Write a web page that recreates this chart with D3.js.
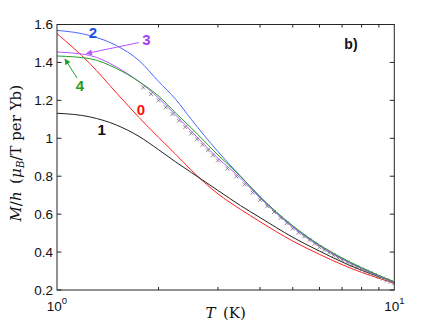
<!DOCTYPE html>
<html>
<head>
<meta charset="utf-8">
<script src="https://cdn.jsdelivr.net/npm/d3@7"></script>
<style>
  body { margin: 0; background: #fff; }
</style>
</head>
<body>
<div id="chart"></div>
<script>
(function(){

    // temperatures (K) of the model curves
    var temps  = [1, 1.25, 1.5, 1.75, 2, 2.25, 2.5, 3, 3.5, 4, 5, 6, 7, 8, 9, 10];

    // M/h values of each curve
    var curve0 = [1.552, 1.395, 1.24, 1.11, 1.005, 0.915, 0.832, 0.707, 0.625, 0.56, 0.458, 0.388, 0.334, 0.293, 0.262, 0.235];
    var curve1 = [1.132, 1.113, 1.07, 1.01, 0.94, 0.875, 0.82, 0.725, 0.645, 0.582, 0.478, 0.405, 0.348, 0.304, 0.271, 0.243];
    var curve2 = [1.569, 1.542, 1.489, 1.41, 1.30, 1.205, 1.10, 0.93, 0.80, 0.69, 0.535, 0.435, 0.366, 0.315, 0.274, 0.24];
    var curve3 = [1.455, 1.437, 1.376, 1.299, 1.212, 1.122, 1.038, 0.895, 0.79, 0.685, 0.532, 0.432, 0.363, 0.313, 0.273, 0.239];
    var curve4 = [1.434, 1.420, 1.368, 1.299, 1.223, 1.133, 1.055, 0.912, 0.80, 0.692, 0.539, 0.438, 0.369, 0.318, 0.277, 0.243];

    // measured points (grey crosses)
    var dataT = [1.8, 1.9, 2.0, 2.1, 2.2, 2.3, 2.4, 2.5, 2.6, 2.7, 2.8, 2.9, 3.0,
                 3.2, 3.4, 3.6, 3.8, 4.0, 4.2, 4.4, 4.6, 4.8, 5.0, 5.2, 5.4, 5.6, 5.8, 6.0,
                 6.2, 6.4, 6.6, 6.8, 7.0, 7.25, 7.5, 7.75, 8.0, 8.25, 8.5, 8.75, 9.0, 9.25, 9.5, 9.75, 10];
    var dataM = [1.268, 1.233, 1.200, 1.163, 1.128, 1.093, 1.059, 1.026, 0.995, 0.966, 0.937, 0.910, 0.883,
                 0.840, 0.799, 0.757, 0.714, 0.675, 0.642, 0.611, 0.580, 0.552, 0.524, 0.502, 0.482, 0.463, 0.444, 0.425,
                 0.411, 0.397, 0.383, 0.370, 0.357, 0.345, 0.332, 0.320, 0.308, 0.298, 0.288, 0.279, 0.269, 0.260, 0.252, 0.243, 0.236];

    var yTicks      = [0.2, 0.4, 0.6, 0.8, 1.0, 1.2, 1.4, 1.6];
    var yTickLabels = ["0.2", "0.4", "0.6", "0.8", "1", "1.2", "1.4", "1.6"];
    var xMinor      = [2, 3, 4, 5, 6, 7, 8, 9];
    var xMajor      = [1, 10];
    var xExponents  = ["0", "1"];

    // curve number labels and arrows (in data units)
    var labelNames = ["0", "1", "2", "3", "4"];
    var labelT     = [1.774, 1.357, 1.278, 1.842, 1.170];
    var labelM     = [1.152, 1.046, 1.560, 1.518, 1.278];
    var arrowFrom  = [{t: 1.75, m: 1.505}, {t: 1.146, m: 1.318}];
    var arrowTo    = [{t: 1.223, m: 1.447}, {t: 1.056, m: 1.418}];

    var lineColors  = ["#ff1f1f", "#222222", "#4a68ff", "#b455ff", "#23a123"];
    var labelColors = ["#ff1010", "#111111", "#1f4fe6", "#a640f0", "#2a9a1e"];

    var width = 436, height = 327;
    var margin = {top: 24.5, right: 41.7, bottom: 37, left: 57};
    var w = width - margin.left - margin.right;
    var h = height - margin.top - margin.bottom;

    var svg = d3.select("#chart")
                .append("svg")
                .attr("width", width)
                .attr("height", height);

    var x = d3.scaleLog().domain([1, 10]).range([0, w]);
    var y = d3.scaleLinear().domain([0.2, 1.6]).range([h, 0]);

    var defs = svg.append("defs");
    defs.append("clipPath").attr("id", "clip")
        .append("rect").attr("width", w).attr("height", h);

    [3, 4].forEach(function(i){
        defs.append("marker")
            .attr("id", "head" + i)
            .attr("viewBox", "0 0 10 10")
            .attr("refX", 9).attr("refY", 5)
            .attr("markerWidth", 7).attr("markerHeight", 6)
            .attr("markerUnits", "userSpaceOnUse")
            .attr("orient", "auto")
            .append("path")
            .attr("d", "M0,0 L10,5 L0,10 z")
            .attr("fill", lineColors[i]);
    });

    var g = svg.append("g")
               .attr("transform", "translate(" + margin.left + "," + margin.top + ")");

    var plot = g.append("g").attr("clip-path", "url(#clip)");

    var line = d3.line()
                 .x(function(d){ return x(d[0]); })
                 .y(function(d){ return y(d[1]); })
                 .curve(d3.curveMonotoneX);

    var curves = [curve0, curve1, curve2, curve3, curve4];
    for (var k = 0; k < curves.length; k++) {
        plot.append("path")
            .datum(d3.zip(temps, curves[k]))
            .attr("d", line)
            .attr("fill", "none")
            .attr("stroke", lineColors[k])
            .attr("stroke-width", 1);
    }

    // grey crosses
    var cs = 2;
    plot.selectAll(".cross")
        .data(d3.zip(dataT, dataM))
        .enter()
        .append("path")
        .attr("class", "cross")
        .attr("d", function(d){
            var cx = x(d[0]), cy = y(d[1]);
            return "M" + (cx - cs) + "," + (cy - cs) + "L" + (cx + cs) + "," + (cy + cs) +
                   "M" + (cx - cs) + "," + (cy + cs) + "L" + (cx + cs) + "," + (cy - cs);
        })
        .attr("stroke", "#707070")
        .attr("stroke-opacity", 0.8)
        .attr("stroke-width", 1)
        .attr("fill", "none");

    // frame
    g.append("rect")
     .attr("width", w).attr("height", h)
     .attr("fill", "none")
     .attr("stroke", "#262626")
     .attr("stroke-width", 1);

    // y ticks, inside, left and right
    var tk = 4.5;
    for (var v of yTicks) {
        g.append("line").attr("x1", 0).attr("x2", tk)
         .attr("y1", y(v)).attr("y2", y(v))
         .attr("stroke", "#262626");
        g.append("line").attr("x1", w - tk).attr("x2", w)
         .attr("y1", y(v)).attr("y2", y(v))
         .attr("stroke", "#262626");
    }
    g.selectAll(".ylab")
     .data(yTicks)
     .enter()
     .append("text")
     .attr("class", "ylab")
     .attr("x", -4)
     .attr("y", function(d){ return y(d); })
     .attr("dy", "0.36em")
     .attr("text-anchor", "end")
     .attr("font-family", "Liberation Sans, Arial, sans-serif")
     .attr("font-size", 13.5)
     .attr("fill", "#111")
     .text(function(d, i){ return yTickLabels[i]; });

    // x minor ticks, inside, top and bottom
    var mk = 3;
    for (var t of xMinor) {
        g.append("line").attr("x1", x(t)).attr("x2", x(t))
         .attr("y1", h).attr("y2", h - mk)
         .attr("stroke", "#262626");
        g.append("line").attr("x1", x(t)).attr("x2", x(t))
         .attr("y1", 0).attr("y2", mk)
         .attr("stroke", "#262626");
    }

    // x major labels 10^0, 10^1
    xMajor.forEach(function(t, i){
        var lab = g.append("text")
                   .attr("x", x(t))
                   .attr("y", h + 21)
                   .attr("text-anchor", "middle")
                   .attr("font-family", "Liberation Sans, Arial, sans-serif")
                   .attr("font-size", 13.5)
                   .attr("fill", "#111");
        lab.append("tspan").text("10");
        lab.append("tspan").attr("dy", -7).attr("font-size", 9.5).text(xExponents[i]);
    });

    // axis titles
    var xt = g.append("text")
              .attr("x", w / 2)
              .attr("y", h + 28)
              .attr("text-anchor", "middle")
              .attr("font-family", "DejaVu Serif, serif")
              .attr("font-size", 15)
              .attr("fill", "#111");
    xt.append("tspan").attr("font-style", "italic").text("T");
    xt.append("tspan").attr("xml:space", "preserve").text("\u2002(K)");

    var yt = g.append("text")
              .attr("transform", "translate(" + (-36) + "," + (h / 2 - 4) + ") rotate(-90)")
              .attr("text-anchor", "middle")
              .attr("font-family", "DejaVu Serif, serif")
              .attr("font-size", 15)
              .attr("fill", "#111");
    yt.append("tspan").attr("font-style", "italic").text("M");
    yt.append("tspan").text("/");
    yt.append("tspan").attr("font-style", "italic").text("h");
    yt.append("tspan").text("\u2002(");
    yt.append("tspan").attr("font-style", "italic").text("μ");
    yt.append("tspan").attr("font-style", "italic").attr("font-size", 10.5).attr("dy", 3).text("B");
    yt.append("tspan").attr("dy", -3).text("/T per Yb)");

    // arrows
    [3, 4].forEach(function(c, i){
        g.append("line")
         .attr("x1", x(arrowFrom[i].t)).attr("y1", y(arrowFrom[i].m))
         .attr("x2", x(arrowTo[i].t)).attr("y2", y(arrowTo[i].m))
         .attr("stroke", lineColors[c])
         .attr("stroke-width", 1)
         .attr("marker-end", "url(#head" + c + ")");
    });

    // curve labels
    g.selectAll(".clab")
     .data(labelNames)
     .enter()
     .append("text")
     .attr("class", "clab")
     .attr("x", function(d, i){ return x(labelT[i]); })
     .attr("y", function(d, i){ return y(labelM[i]); })
     .attr("dy", "0.36em")
     .attr("text-anchor", "middle")
     .attr("font-family", "Liberation Sans, Arial, sans-serif")
     .attr("font-weight", "bold")
     .attr("font-size", 15)
     .attr("fill", function(d, i){ return labelColors[i]; })
     .text(function(d){ return d; });

    g.append("text")
     .attr("x", x(7.44))
     .attr("y", y(1.495))
     .attr("dy", "0.36em")
     .attr("text-anchor", "middle")
     .attr("font-family", "Liberation Sans, Arial, sans-serif")
     .attr("font-weight", "bold")
     .attr("font-size", 14)
     .attr("fill", "#111")
     .text("b)");

})();
</script>
</body>
</html>
